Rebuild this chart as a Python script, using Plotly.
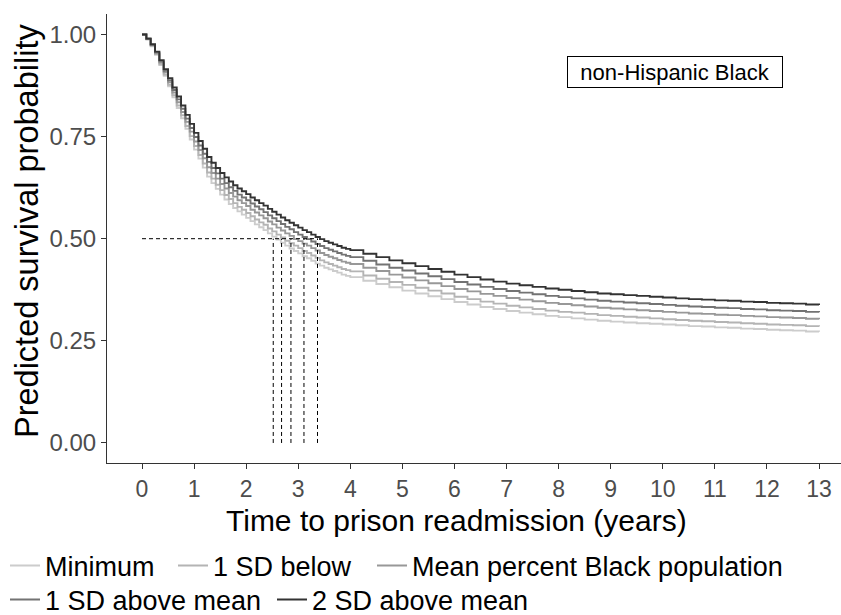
import plotly.graph_objects as go

# Follow-up time grid (months since release): monthly to 4 years, quarterly after
months = [0, 1, 2, 3, 4, 5, 6, 7, 8, 9, 10, 11, 12, 13, 14, 15, 16, 17, 18, 19, 20, 21, 22, 23, 24,
          25, 26, 27, 28, 29, 30, 31, 32, 33, 34, 35, 36, 37, 38, 39, 40, 41, 42, 43, 44, 45, 46, 47, 48,
          51, 54, 57, 60, 63, 66, 69, 72, 75, 78, 81, 84, 87, 90, 93, 96, 99, 102, 105, 108,
          111, 114, 117, 120, 123, 126, 129, 132, 135, 138, 141, 144, 147, 150, 153, 156]

series_names = ["Minimum", "1 SD below", "Mean percent Black population",
                "1 SD above mean", "2 SD above mean"]

surv_minimum = [1.000, 0.988, 0.971, 0.950, 0.925, 0.899, 0.873, 0.846, 0.820, 0.795, 0.769, 0.743, 0.718,
                0.696, 0.674, 0.652, 0.636, 0.622, 0.608, 0.596, 0.585, 0.575, 0.567, 0.559, 0.551,
                0.543, 0.535, 0.528, 0.521, 0.513, 0.505, 0.498, 0.490, 0.483, 0.476, 0.470, 0.464,
                0.457, 0.452, 0.446, 0.439, 0.434, 0.429, 0.425, 0.421, 0.417, 0.412, 0.409, 0.406,
                0.397, 0.389, 0.381, 0.373, 0.366, 0.359, 0.352, 0.345, 0.339, 0.333, 0.328, 0.323,
                0.319, 0.315, 0.311, 0.308, 0.305, 0.302, 0.299, 0.297, 0.295, 0.293, 0.292, 0.290,
                0.288, 0.286, 0.285, 0.283, 0.282, 0.280, 0.279, 0.277, 0.276, 0.275, 0.273, 0.272]

surv_1sd_below = [1.000, 0.988, 0.972, 0.952, 0.927, 0.902, 0.877, 0.851, 0.826, 0.802, 0.776, 0.751, 0.727,
                  0.705, 0.684, 0.662, 0.647, 0.632, 0.619, 0.607, 0.597, 0.587, 0.578, 0.571, 0.563,
                  0.555, 0.547, 0.540, 0.534, 0.525, 0.518, 0.510, 0.503, 0.495, 0.489, 0.483, 0.477,
                  0.470, 0.465, 0.459, 0.453, 0.447, 0.442, 0.438, 0.434, 0.430, 0.426, 0.423, 0.420,
                  0.410, 0.402, 0.394, 0.387, 0.380, 0.373, 0.366, 0.358, 0.352, 0.346, 0.341, 0.336,
                  0.332, 0.328, 0.324, 0.321, 0.319, 0.316, 0.313, 0.311, 0.309, 0.307, 0.305, 0.303,
                  0.301, 0.299, 0.298, 0.296, 0.295, 0.293, 0.292, 0.290, 0.289, 0.288, 0.286, 0.285]

surv_mean = [1.000, 0.989, 0.974, 0.954, 0.931, 0.907, 0.883, 0.858, 0.834, 0.810, 0.786, 0.762, 0.738,
             0.717, 0.697, 0.675, 0.661, 0.647, 0.634, 0.623, 0.612, 0.603, 0.594, 0.587, 0.580,
             0.571, 0.564, 0.557, 0.550, 0.542, 0.535, 0.527, 0.520, 0.513, 0.507, 0.499, 0.494,
             0.488, 0.483, 0.477, 0.471, 0.465, 0.460, 0.456, 0.452, 0.448, 0.444, 0.441, 0.438,
             0.429, 0.421, 0.412, 0.405, 0.398, 0.391, 0.384, 0.377, 0.371, 0.365, 0.360, 0.355,
             0.351, 0.347, 0.343, 0.340, 0.337, 0.334, 0.331, 0.329, 0.327, 0.325, 0.323, 0.321,
             0.319, 0.317, 0.316, 0.314, 0.313, 0.311, 0.310, 0.308, 0.307, 0.306, 0.304, 0.303]

surv_1sd_above = [1.000, 0.989, 0.975, 0.956, 0.934, 0.911, 0.888, 0.864, 0.841, 0.818, 0.794, 0.771, 0.749,
                  0.728, 0.708, 0.688, 0.673, 0.660, 0.647, 0.636, 0.626, 0.617, 0.608, 0.601, 0.594,
                  0.586, 0.579, 0.572, 0.565, 0.557, 0.550, 0.543, 0.536, 0.529, 0.523, 0.516, 0.510,
                  0.504, 0.499, 0.493, 0.487, 0.482, 0.477, 0.473, 0.469, 0.465, 0.461, 0.458, 0.455,
                  0.446, 0.437, 0.429, 0.422, 0.415, 0.408, 0.401, 0.394, 0.388, 0.382, 0.377, 0.372,
                  0.368, 0.364, 0.360, 0.357, 0.354, 0.351, 0.348, 0.346, 0.344, 0.342, 0.340, 0.338,
                  0.336, 0.334, 0.333, 0.331, 0.330, 0.328, 0.327, 0.325, 0.324, 0.323, 0.321, 0.320]

surv_2sd_above = [1.000, 0.990, 0.976, 0.958, 0.937, 0.915, 0.893, 0.870, 0.848, 0.826, 0.803, 0.781, 0.759,
                  0.739, 0.720, 0.700, 0.686, 0.673, 0.661, 0.650, 0.640, 0.631, 0.623, 0.616, 0.609,
                  0.601, 0.594, 0.587, 0.581, 0.573, 0.566, 0.559, 0.552, 0.545, 0.539, 0.533, 0.527,
                  0.521, 0.516, 0.510, 0.504, 0.499, 0.494, 0.490, 0.486, 0.482, 0.478, 0.475, 0.472,
                  0.463, 0.455, 0.447, 0.440, 0.433, 0.426, 0.419, 0.412, 0.406, 0.400, 0.395, 0.390,
                  0.386, 0.382, 0.378, 0.375, 0.372, 0.369, 0.366, 0.364, 0.362, 0.360, 0.358, 0.356,
                  0.354, 0.352, 0.351, 0.349, 0.348, 0.346, 0.345, 0.343, 0.342, 0.341, 0.339, 0.338]

# Median survival time (years) for each group, same order as series_names
median_years = [2.52, 2.68, 2.86, 3.11, 3.37]
median_level = 0.5

x_ticks = list(range(0, 14))
y_ticks = [0.00, 0.25, 0.50, 0.75, 1.00]

series_values = [surv_minimum, surv_1sd_below, surv_mean, surv_1sd_above, surv_2sd_above]
series_colors = ["#CCCCCC", "#B4B4B4", "#989898", "#737373", "#333333"]

FONT = "Liberation Sans, Arial, sans-serif"
W, H = 841, 615
years = [m / 12 for m in months]

# One legend box per entry so the two wrapped legend rows lay out like a flowing key
legend_ids = ["legend", "legend2", "legend3", "legend4", "legend5"]
legend_anchor_px = [(5, 566), (173, 566), (372, 566), (5, 600), (272, 600)]

fig = go.Figure()

for name, vals, col, leg in zip(series_names, series_values, series_colors, legend_ids):
    fig.add_trace(go.Scatter(
        x=years, y=vals, mode="lines", name=name, legend=leg,
        line=dict(color=col, width=1.9, shape="hv"),
    ))

# Dashed guides: horizontal at the median level, vertical drops at each median time
guide_x = [0, max(median_years), None]
guide_y = [median_level, median_level, None]
for m in median_years:
    guide_x += [m, m, None]
    guide_y += [0, median_level, None]
fig.add_trace(go.Scatter(
    x=guide_x, y=guide_y, mode="lines", showlegend=False, hoverinfo="skip",
    line=dict(color="black", width=1, dash="4px,3px"),
))

axis_common = dict(
    showgrid=False, zeroline=False, showline=True, linecolor="#333333", linewidth=1.1,
    ticks="outside", ticklen=5, tickwidth=1.1, tickcolor="#333333",
)

legend_layouts = {}
for leg, (px, py) in zip(legend_ids, legend_anchor_px):
    legend_layouts[leg] = dict(
        orientation="h", xref="container", yref="container",
        x=px / W, y=1 - py / H, xanchor="left", yanchor="middle",
        font=dict(family=FONT, size=27, color="black"),
        bgcolor="rgba(0,0,0,0)", itemwidth=30,
    )

fig.update_layout(
    width=W, height=H,
    margin=dict(l=107, r=0, t=14, b=152),
    paper_bgcolor="white", plot_bgcolor="white",
    font=dict(family=FONT, color="black"),
    xaxis=dict(range=[-0.672, 13.422], tickvals=x_ticks,
               tickfont=dict(family=FONT, size=23, color="#4D4D4D"), **axis_common),
    yaxis=dict(range=[-0.049, 1.050], tickvals=y_ticks,
               ticktext=[f"{v:.2f}" for v in y_ticks],
               tickfont=dict(family=FONT, size=24, color="#4D4D4D"), **axis_common),
    annotations=[
        dict(text="Time to prison readmission (years)", xref="paper", yref="paper",
             x=(456 - 107) / 734, y=(463 - 520) / 449, xanchor="center", yanchor="middle",
             showarrow=False, font=dict(family=FONT, size=30, color="black")),
        dict(text="Predicted survival probability", xref="paper", yref="paper",
             x=(27 - 107) / 734, y=(463 - 231) / 449, xanchor="center", yanchor="middle",
             textangle=-90, showarrow=False, font=dict(family=FONT, size=32.5, color="black")),
        dict(text="non-Hispanic Black", xref="x", yref="y", x=10.235, y=0.908,
             xanchor="center", yanchor="middle", showarrow=False,
             width=210, height=26, borderpad=2, bordercolor="black", borderwidth=1,
             bgcolor="white", font=dict(family=FONT, size=22, color="black")),
    ],
    **legend_layouts,
)

fig.write_html("out.html")
